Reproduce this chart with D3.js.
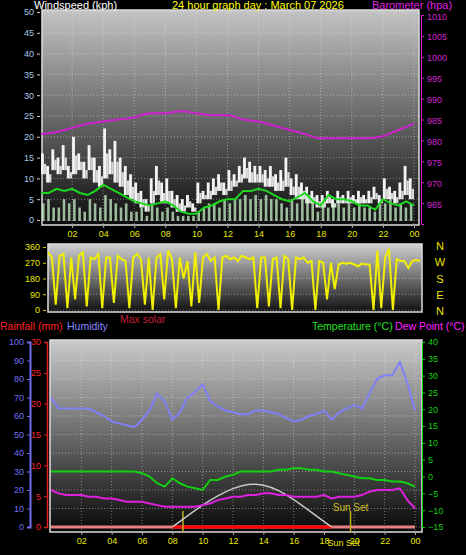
<!DOCTYPE html><html><head><meta charset="utf-8">
<script src="https://cdn.jsdelivr.net/npm/d3@7"></script>
<style>body{margin:0;background:#000}svg{display:block}text{font-family:"Liberation Sans",Arial,sans-serif}</style></head><body>
<script>
const hourLabels=["02","04","06","08","10","12","14","16","18","20","22","00"];
const gust=[16,13,17,15,18,13,20,16,14,18,15,13,22,17,19,15,13,11,9,7,5,10,13,9,10,7,6,5,6,4,9,7,9,10,11,9,12,11,13,15,14,13,13,12,13,11,12,15,10,11,9,8,7,6,6,7,5,7,6,7,6,7,6,7,8,6,10,8,7,9,13,10];
const gustLow=[11,9,12,11,12,10,11,12,10,12,9,8,10,11,9,8,6,5,4,3,2,4,6,4,4,3,2,2,3,2,4,5,5,6,7,6,7,8,9,10,9,9,9,8,8,7,7,8,6,5,5,4,4,3,3,4,3,4,4,4,4,4,4,4,5,4,5,5,4,5,6,5];
const windSpd=[4,5,3,3,5,4,5,3,2,5,4,3,6,5,4,3,4,2,2,3,1,4,3,2,3,2,1,1,1,1,2,3,4,4,3,5,4,5,5,6,5,6,5,6,5,5,4,3,5,4,6,6,5,2,5,3,4,4,3,4,3,4,3,3,2,4,4,5,3,4,3,4];
const windAvg=[6.5,6.5,7.5,7,7.5,6.5,6,7,8.5,7.5,6.5,5.5,4.5,4,3.5,4,4.5,3.5,2,1.5,1.5,3,3.5,4.5,5,5,7,7,7.5,7,6,5,4.5,5.5,6.5,4.5,3.5,6,5,5,4.5,3.5,3.5,2.5,5,4,3.5,4.5,3.5];
const baro=[981.5,982,983,984,984.5,985,985.5,986.5,986.5,987,986.5,986,986,985,984.5,983.5,982.5,981.5,980.5,980.5,980.5,980.5,981,982.5,984];
const windDir=[330,300,30,310,320,10,300,60,310,330,20,300,290,320,10,300,300,40,310,290,280,10,300,320,290,30,300,0,300,320,60,340,290,10,300,180,280,20,330,40,300,320,280,300,0,300,310,290,300,280,310,300,290,300,10,300,300,20,290,300,10,310,290,0,300,290,300,270,280,0,280,270,60,270,120,260,270,265,270,260,250,265,260,260,0,340,10,300,350,0,290,280,280,240,280,285,280];
const humidity=[70,64,64,64,64,64,62,60,57,56,55,54,58,63,72,68,58,62,70,73,77,68,65,63,62,61,61,63,63,62,61,59,57,58,60,61,63,58,62,64,66,64,72,80,82,82,89,78,63];
const temperature=[1.5,1.5,1.5,1.5,1.5,1.5,1.5,1.5,1.5,1.5,1.5,1.5,1,0,-2,-3,-0.5,-2,-3,-3.5,-4,-1,-1,0,0.5,1.5,1.5,1.5,1.5,1.5,2,2,2.5,2.5,2,2,1.5,1.5,1,0.5,0,-0.5,-0.5,-1,-1,-1.5,-1.5,-2,-3];
const dewPoint=[-4,-5,-5.5,-5.5,-5.5,-6,-6,-6.5,-6.5,-7,-7.5,-7.5,-7.5,-8,-8.5,-9,-9,-9,-9,-9,-8.5,-8,-7,-6.5,-6,-6,-5.5,-5.5,-5,-5,-5.5,-5.5,-6,-6,-6,-6,-5.5,-6.5,-6,-6,-6,-5.5,-4.5,-4,-4,-4,-3.5,-7,-9.5];
const solarHours=[8,9,10,11,12,13,14,15,16,17,18,18.5];
const solar=[0,6,12,17,21,23.5,23,20,15,9,3,0];
const sunRise=8.7, sunSet=19.75;

const svg=d3.select("body").append("svg").attr("width",466).attr("height",555);
const defs=svg.append("defs");
function grad(id,a,b){const g=defs.append("linearGradient").attr("id",id).attr("x1",0).attr("x2",0).attr("y1",0).attr("y2",1);
g.append("stop").attr("offset","0%").attr("stop-color",a);g.append("stop").attr("offset","100%").attr("stop-color",b);}
grad("g1","#c4c4c4","#0c0c0c");grad("g2","#d0d0d0","#101010");grad("g3","#cacaca","#080808");

function panel(x0,x1,y0,y1,gid){
 svg.append("rect").attr("x",x0).attr("y",y0).attr("width",x1-x0).attr("height",y1-y0).attr("fill",`url(#${gid})`).attr("stroke","#ddd").attr("stroke-width",1.5);}
function grid(xs,ys,x0,x1,y0,y1){
 const g=svg.append("g").attr("stroke","#e8e8e8").attr("stroke-opacity",0.45).attr("stroke-dasharray","1,2");
 xs.forEach(x=>g.append("line").attr("x1",x).attr("x2",x).attr("y1",y0).attr("y2",y1));
 ys.forEach(y=>g.append("line").attr("x1",x0).attr("x2",x1).attr("y1",y).attr("y2",y));}
function txt(x,y,s,c,size,anchor){return svg.append("text").attr("x",x).attr("y",y).attr("fill",c).attr("font-size",size||12).attr("text-anchor",anchor||"start").text(s);}

// ===== top panel
const x1=d3.scaleLinear().domain([0,24]).range([41,414]);
const yW=d3.scaleLinear().domain([0,50]).range([220,12]);
const yB=d3.scaleLinear().domain([960,1010]).range([224,15]);
panel(42,419,10,225,"g1");
grid(d3.range(2,25,2).map(x1),d3.range(0,51,5).map(yW),42,419,10,225);
const bw=(x1(1/3)-x1(0));
svg.append("g").selectAll("rect").data(gust).join("rect").attr("x",(d,i)=>x1(i/3)).attr("width",bw*0.55).attr("y",d=>yW(d)).attr("height",(d,i)=>yW(gustLow[i])-yW(d)).attr("fill","#f4f4f4");
svg.append("g").selectAll("rect").data(gust).join("rect").attr("x",(d,i)=>x1(i/3)+bw*0.55).attr("width",bw*0.45).attr("y",(d,i)=>yW((d+gustLow[i])/2)).attr("height",(d,i)=>yW(gustLow[i])-yW((d+gustLow[i])/2)).attr("fill","#d8d8d8");
svg.append("g").selectAll("rect").data(windSpd).join("rect").attr("x",(d,i)=>x1(i/3)+1).attr("width",bw*0.5).attr("y",d=>yW(d)).attr("height",d=>yW(0)-yW(d)+1).attr("fill","#c8f0c8").attr("opacity",0.75);
svg.append("path").datum(windAvg).attr("fill","none").attr("stroke","#1cd81c").attr("stroke-width",2).attr("d",d3.line().x((d,i)=>x1(i/2)).y(d=>yW(d)));
svg.append("path").datum(baro).attr("fill","none").attr("stroke","#d020d0").attr("stroke-width",2).attr("d",d3.line().x((d,i)=>x1(i)).y(d=>yB(d)).curve(d3.curveMonotoneX));
svg.append("g").attr("transform","translate(40,0)").call(d3.axisLeft(yW).tickValues(d3.range(0,51,5)).tickSize(3)).call(g=>{g.select(".domain").remove();g.selectAll("line").attr("stroke","#ccc");g.selectAll("text").attr("fill","#a8c8e8").attr("font-size",9);});
svg.append("g").attr("transform","translate(421,0)").call(d3.axisRight(yB).tickValues(d3.range(965,1011,5)).tickFormat(d3.format("d")).tickSize(3)).call(g=>{g.select(".domain").attr("stroke","#d020d0");g.selectAll("line").attr("stroke","#d020d0");g.selectAll("text").attr("fill","#d020d0").attr("font-size",9).attr("dy","0.45em");});
svg.append("g").attr("transform","translate(0,226)").call(d3.axisBottom(x1).tickValues(d3.range(2,25,2)).tickFormat((d,i)=>hourLabels[i]).tickSize(2)).call(g=>{g.select(".domain").remove();g.selectAll("line").attr("stroke","#aaa");g.selectAll("text").attr("fill","#e8e800").attr("font-size",9);});
txt(34,9,"Windspeed (kph)","#fff",11);
txt(172,9,"24 hour graph day : March 07 2026","#ffff00",11);
txt(372,9,"Barometer (hpa)","#e020e0",11);

// ===== wind dir
const x2=d3.scaleLinear().domain([0,24]).range([48,420]);
const yD=d3.scaleLinear().domain([0,360]).range([310,247]);
panel(48,422,244,312,"g2");
grid([],[0,90,180,270,360].map(yD),48,422,244,312);
svg.append("path").datum(windDir).attr("fill","none").attr("stroke","#f0f000").attr("stroke-width",2).attr("d",d3.line().x((d,i)=>x2(i/4)).y(d=>yD(d)));
svg.append("g").attr("transform","translate(46,0)").call(d3.axisLeft(yD).tickValues([0,90,180,270,360]).tickSize(3)).call(g=>{g.select(".domain").remove();g.selectAll("line").attr("stroke","#cc0");g.selectAll("text").attr("fill","#e8e800").attr("font-size",9);});
["N","W","S","E","N"].forEach((s,i)=>txt(440,250+i*16.3,s,"#f0e000",11,"middle"));

// ===== legends
txt(0,330,"Rainfall (mm)","#ff2020",10.5);
txt(67,330,"Humidity","#8888ff",10.5);
txt(120,323,"Max solar","#c0203c",10.5);
txt(312,330,"Temperature (°C)","#20e020",10.5);
txt(395,330,"Dew Point (°C)","#ff20ff",10.5);

// ===== bottom panel
const x3=d3.scaleLinear().domain([0,24]).range([51,415]);
const yH=d3.scaleLinear().domain([0,100]).range([527,342]);
const yR=d3.scaleLinear().domain([0,30]).range([527,342]);
const yT=d3.scaleLinear().domain([-15,40]).range([527,342]);
panel(50,422,340,532,"g3");
grid(d3.range(2,25,2).map(x3),d3.range(0,101,10).map(yH),50,422,340,532);
svg.append("line").attr("x1",x3(0)).attr("x2",x3(24)).attr("y1",yR(0)).attr("y2",yR(0)).attr("stroke","#e88080").attr("stroke-width",3);
svg.append("line").attr("x1",x3(8)).attr("x2",x3(18.5)).attr("y1",yR(0)).attr("y2",yR(0)).attr("stroke","#ff0000").attr("stroke-width",3);
[sunRise,sunSet].forEach(h=>svg.append("line").attr("x1",x3(h)).attr("x2",x3(h)).attr("y1",511).attr("y2",532).attr("stroke","#c0b020").attr("stroke-width",1.5));
svg.append("path").datum(solar).attr("fill","none").attr("stroke","#c8c8c8").attr("stroke-width",1.5).attr("d",d3.line().x((d,i)=>x3(solarHours[i])).y(d=>yH(d)).curve(d3.curveBasis));
svg.append("path").datum(humidity).attr("fill","none").attr("stroke","#8080f8").attr("stroke-width",2).attr("d",d3.line().x((d,i)=>x3(i/2)).y(d=>yH(d)));
svg.append("path").datum(temperature).attr("fill","none").attr("stroke","#10d010").attr("stroke-width",2).attr("d",d3.line().x((d,i)=>x3(i/2)).y(d=>yT(d)));
svg.append("path").datum(dewPoint).attr("fill","none").attr("stroke","#e020e0").attr("stroke-width",2).attr("d",d3.line().x((d,i)=>x3(i/2)).y(d=>yT(d)));
txt(x3(sunSet),511,"Sun Set","#d0c020",10,"middle");
svg.append("g").attr("transform","translate(30,0)").call(d3.axisLeft(yH).tickValues(d3.range(0,101,10)).tickSize(3)).call(g=>{g.select(".domain").attr("stroke","#7070f0").attr("stroke-width",2);g.selectAll("line").attr("stroke","#7070f0");g.selectAll("text").attr("fill","#7070f0").attr("font-size",9);});
svg.append("g").attr("transform","translate(47,0)").call(d3.axisLeft(yR).tickValues(d3.range(0,31,5)).tickSize(3)).call(g=>{g.select(".domain").attr("stroke","#e02020").attr("stroke-width",1.5);g.selectAll("line").attr("stroke","#e02020");g.selectAll("text").attr("fill","#ff2020").attr("font-size",9);});
svg.append("g").attr("transform","translate(422,0)").call(d3.axisRight(yT).tickValues(d3.range(-15,41,5)).tickSize(3)).call(g=>{g.select(".domain").attr("stroke","#10d010");g.selectAll("line").attr("stroke","#10d010");g.selectAll("text").attr("fill","#10d010").attr("font-size",9);});
svg.append("g").attr("transform","translate(0,533)").call(d3.axisBottom(x3).tickValues(d3.range(2,25,2)).tickFormat((d,i)=>hourLabels[i]).tickSize(2)).call(g=>{g.select(".domain").remove();g.selectAll("line").attr("stroke","#aaa");g.selectAll("text").attr("fill","#e8e800").attr("font-size",9);});
txt(x3(sunSet)-7,546,"Sun Set","#e8e800",9,"middle");
</script></body></html>
